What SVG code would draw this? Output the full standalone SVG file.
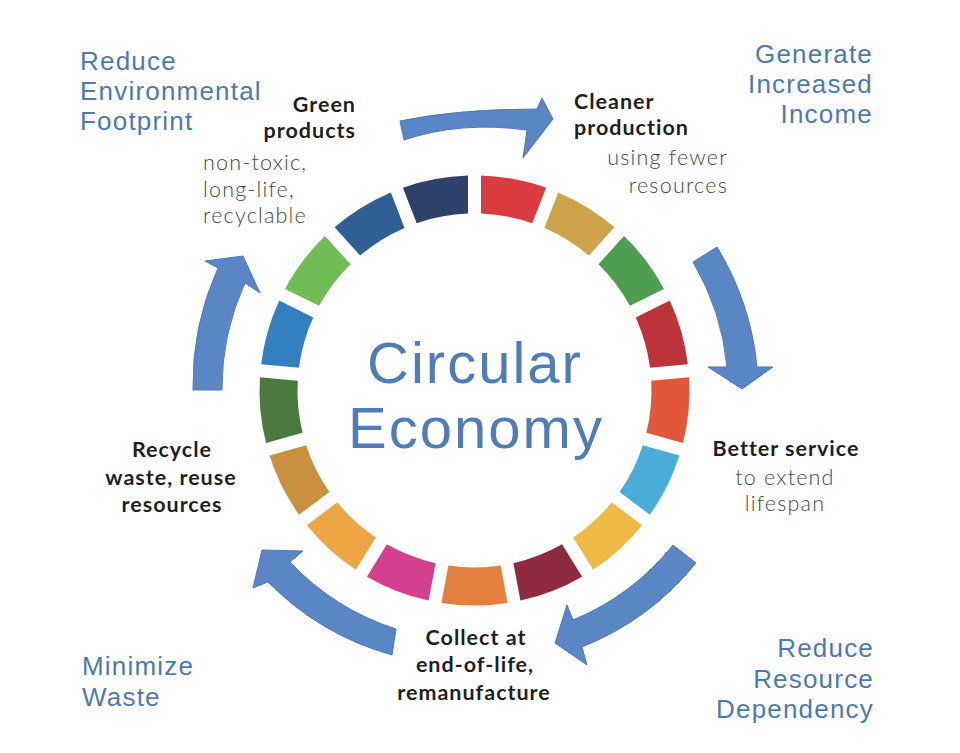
<svg xmlns="http://www.w3.org/2000/svg" xmlns:xlink="http://www.w3.org/1999/xlink" width="960" height="753" viewBox="0 0 960 753">
<style>
.blue{font-family:"Liberation Sans",Arial,sans-serif;font-size:26px;fill:#4E79AC;letter-spacing:1.2px}
.bold{font-family:Lato,"Open Sans",sans-serif;font-size:21.5px;font-weight:700;fill:#1f1f1f;letter-spacing:1px}
.light{font-family:Lato,"Open Sans",sans-serif;font-size:21.5px;font-weight:300;fill:#444444;letter-spacing:1.2px}
.title{font-family:"Liberation Sans",Arial,sans-serif;font-size:58px;fill:#4F7DB8;letter-spacing:2px}
.arrow{fill:#5B86C6;stroke:#4E78B6;stroke-width:1;stroke-linejoin:round}
</style>
<defs>
<path id="seg" d="M-33.10,-212.44 A215,215 0 0 1 33.10,-212.44 L26.11,-175.06 A177,177 0 0 0 -26.11,-175.06 Z"/>
</defs>
<rect width="960" height="753" fill="#ffffff"/>

<g id="ring">
<use xlink:href="#seg" fill="#DA3B3E" transform="translate(474.5,390.5) rotate(10.588)"/>
<use xlink:href="#seg" fill="#CFA24C" transform="translate(474.5,390.5) rotate(31.765)"/>
<use xlink:href="#seg" fill="#4E9E52" transform="translate(474.5,390.5) rotate(52.941)"/>
<use xlink:href="#seg" fill="#BC3339" transform="translate(474.5,390.5) rotate(74.118)"/>
<use xlink:href="#seg" fill="#E2573A" transform="translate(474.5,390.5) rotate(95.294)"/>
<use xlink:href="#seg" fill="#4AACD8" transform="translate(474.5,390.5) rotate(116.471)"/>
<use xlink:href="#seg" fill="#EFB945" transform="translate(474.5,390.5) rotate(137.647)"/>
<use xlink:href="#seg" fill="#8E2B3F" transform="translate(474.5,390.5) rotate(158.824)"/>
<use xlink:href="#seg" fill="#E4803E" transform="translate(474.5,390.5) rotate(180)"/>
<use xlink:href="#seg" fill="#D4408E" transform="translate(474.5,390.5) rotate(201.176)"/>
<use xlink:href="#seg" fill="#EEA644" transform="translate(474.5,390.5) rotate(222.353)"/>
<use xlink:href="#seg" fill="#C8903F" transform="translate(474.5,390.5) rotate(243.529)"/>
<use xlink:href="#seg" fill="#4B7A3E" transform="translate(474.5,390.5) rotate(264.706)"/>
<use xlink:href="#seg" fill="#3380C0" transform="translate(474.5,390.5) rotate(285.882)"/>
<use xlink:href="#seg" fill="#70BC55" transform="translate(474.5,390.5) rotate(307.059)"/>
<use xlink:href="#seg" fill="#2F5F95" transform="translate(474.5,390.5) rotate(328.235)"/>
<use xlink:href="#seg" fill="#2F416A" transform="translate(474.5,390.5) rotate(349.412)"/>
</g>

<g id="title">
<text class="title" text-anchor="middle"><tspan x="475" y="383">Circular</tspan><tspan x="476" y="448">Economy</tspan></text>
</g>

<g id="connectors">
<path class="arrow" d="M400,121 Q457,109 537,109 L542,98 L553,119 L523,158 L527,130 Q460,121 404,140 Z"/>
<path class="arrow" d="M717,247 A282,282 0 0 1 757,367 L773,367 L742,389 L708,367 L727,367 A254,254 0 0 0 693,262 Z"/>
<path class="arrow" d="M673,545 A251,251 0 0 1 573,620 L567,605 L555,643 L587,665 L582,647 A280,280 0 0 0 696,563 Z"/>
<path class="arrow" d="M396,629 A251,251 0 0 1 290,562 L303,551 L262,550 L253,588 L268,582 A280,280 0 0 0 392,655 Z"/>
<path class="arrow" d="M193,390 A281,281 0 0 1 218,268 L205,261 L243,256 L260,293 L245,283 A252,252 0 0 0 222,390 Z"/>
</g>

<g id="green-products">
<text class="bold" text-anchor="end"><tspan x="356" y="112">Green</tspan><tspan x="356" y="138">products</tspan></text>
<text class="light"><tspan x="203" y="170">non-toxic,</tspan><tspan x="203" y="197">long-life,</tspan><tspan x="203" y="223">recyclable</tspan></text>
</g>

<g id="cleaner-production">
<text class="bold"><tspan x="574" y="109">Cleaner</tspan><tspan x="574" y="135">production</tspan></text>
<text class="light" text-anchor="end"><tspan x="728" y="165">using fewer</tspan><tspan x="728" y="193">resources</tspan></text>
</g>

<g id="better-service">
<text class="bold" x="786" y="456" text-anchor="middle">Better service</text>
<text class="light" text-anchor="middle"><tspan x="785" y="485">to extend</tspan><tspan x="785" y="511">lifespan</tspan></text>
</g>

<g id="collect">
<text class="bold" text-anchor="middle"><tspan x="476" y="645">Collect at</tspan><tspan x="475" y="672">end-of-life,</tspan><tspan x="474" y="700">remanufacture</tspan></text>
</g>

<g id="recycle">
<text class="bold" text-anchor="middle"><tspan x="172" y="457">Recycle</tspan><tspan x="171" y="485">waste, reuse</tspan><tspan x="172" y="512">resources</tspan></text>
</g>

<g id="benefit-footprint">
<text class="blue"><tspan x="80" y="70">Reduce</tspan><tspan x="80" y="100">Environmental</tspan><tspan x="80" y="130">Footprint</tspan></text>
</g>

<g id="benefit-income">
<text class="blue" text-anchor="end"><tspan x="873" y="63">Generate</tspan><tspan x="873" y="93">Increased</tspan><tspan x="873" y="123">Income</tspan></text>
</g>

<g id="benefit-waste">
<text class="blue"><tspan x="82" y="675">Minimize</tspan><tspan x="82" y="706">Waste</tspan></text>
</g>

<g id="benefit-resource">
<text class="blue" text-anchor="end"><tspan x="874" y="657">Reduce</tspan><tspan x="874" y="688">Resource</tspan><tspan x="874" y="718">Dependency</tspan></text>
</g>
</svg>
